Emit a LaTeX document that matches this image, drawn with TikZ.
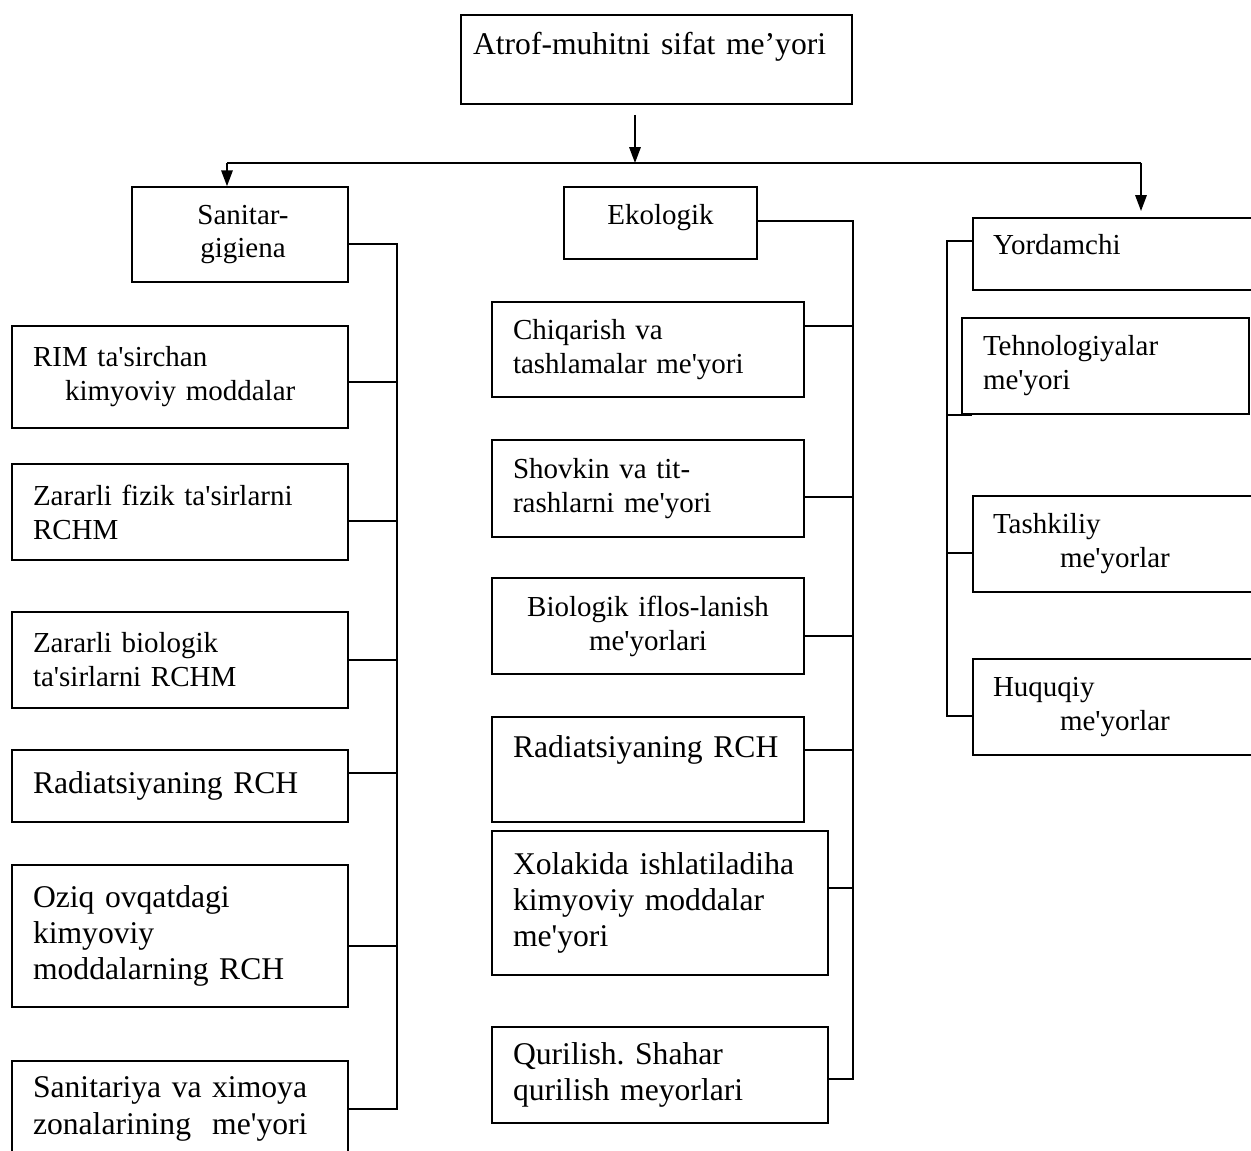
\documentclass[tikz,border=0pt]{standalone}
\usepackage{fontspec}
\setmainfont{Liberation Serif}[Ligatures=TeXOff]
\usetikzlibrary{arrows.meta}
\frenchspacing
\newcommand{\smallf}{\fontsize{16.5pt}{19.3pt}\selectfont}
\newcommand{\bigf}{\fontsize{18pt}{20.7pt}\selectfont}
\tikzset{
  box/.style = {draw, line width=0.9pt, rectangle, inner xsep=0.42cm,
    inner ysep=0pt, align=left, font=\smallf},
  bigbox/.style = {box, font=\bigf},% larger text
  lcol/.style = {minimum width=6.72cm, text width=5.88cm},% left column
  mcol/.style = {minimum width=6.24cm, text width=5.40cm},% middle column
  rcol/.style = {minimum width=5.84cm, text width=5.04cm, inner xsep=0.4cm},% right column
  link/.style = {line width=0.9pt},
  arr/.style = {link, -{Triangle[length=9pt,width=6.5pt]}}
}

\begin{document}
\begin{tikzpicture}[x=0.02cm, y=-0.02cm]
    \useasboundingbox (0,0) rectangle (1251,1151);
    % root and the three groups
    \node [bigbox, inner xsep=0.24cm, text width=7.34cm, minimum height=1.78cm,
      text height=0.44cm, text depth=0.62cm] (root) at (656.5,59.5) {Atrof-muhitni sifat me’yori};
    \node [box, align=center, minimum width=4.32cm, text width=3.48cm,
      minimum height=1.9cm] (san) at (240,234.5) {\hspace*{0.12cm}Sanitar-\\\hspace*{0.12cm}gigiena};
    \node [box, align=center, minimum width=3.86cm, text width=3.02cm,
      minimum height=1.44cm, text height=0.4cm, text depth=0.32cm] (eko) at (660.5,223) {Ekologik};
    \node [box, rcol, minimum height=1.44cm, text height=0.4cm,
      text depth=0.36cm] (yord) at (1119,254) {Yordamchi};
    % left column
    \node [box, lcol, minimum height=2.04cm] (rim) at (180,377) {RIM ta'sirchan\\\hspace*{0.64cm}kimyoviy moddalar};
    \node [box, lcol, minimum height=1.92cm] (fiz) at (180,512) {Zararli fizik ta'sirlarni\\RCHM};
    \node [box, lcol, minimum height=1.92cm] (bio) at (180,660) {Zararli biologik\\ta'sirlarni RCHM};
    \node [bigbox, lcol, minimum height=1.44cm] (radl) at (180,786) {Radiatsiyaning RCH};
    \node [bigbox, lcol, minimum height=2.84cm] (oziq) at (180,936) {Oziq ovqatdagi\\kimyoviy\\moddalarning RCH};
    \node [bigbox, lcol, minimum height=1.92cm] (zona) at (180,1109) {Sanitariya va ximoya\\zonalarining~ me'yori};
    % middle column
    \node [box, mcol, minimum height=1.9cm] (chiq) at (648,349.5) {Chiqarish va\\tashlamalar me'yori};
    \node [box, mcol, minimum height=1.94cm] (shov) at (648,488.5) {Shovkin va tit-\\rashlarni me'yori};
    \node [box, mcol, align=center, minimum height=1.92cm] (biom) at (648,626) {Biologik iflos-lanish\\me'yorlari};
    \node [bigbox, mcol, minimum height=2.1cm, text height=0.44cm,
      text depth=0.94cm] (radm) at (648,769.5) {Radiatsiyaning RCH};
    \node [bigbox, lcol, minimum height=2.88cm] (xol) at (660,903) {Xolakida ishlatiladiha\\kimyoviy moddalar\\me'yori};
    \node [bigbox, lcol, minimum height=1.92cm] (qur) at (660,1075) {Qurilish. Shahar\\qurilish meyorlari};
    % right column
    \node [box, minimum width=5.74cm, text width=4.9cm, minimum height=1.92cm] (tex) at (1105.5,366) {Tehnologiyalar\\me'yori};
    \node [box, rcol, minimum height=1.92cm] (tash) at (1119,544) {Tashkiliy\\\hspace*{1.34cm}me'yorlar};
    \node [box, rcol, minimum height=1.92cm] (huq) at (1119,707) {Huquqiy\\\hspace*{1.34cm}me'yorlar};

    % arrows from the root
    \coordinate (stem) at (635,115);
    \coordinate (hub) at (635,163);
    \coordinate (hubL) at (227,163);
    \coordinate (hubR) at (1141,163);
    \coordinate (tipR) at (1141,211);
    \draw [arr] (stem) -- (hub);
    \draw [link] (hubL) -- (hubR);
    \draw [arr] (hubL) -- (hubL |- san.north);
    \draw [arr] (hubR) -- (tipR);

    % left spine
    \draw [link] ([yshift=-0.19cm]san.east) -- ++(48,0) |- (zona.east);
    \foreach \n/\s in {rim/-0.1, fiz/-0.18, bio/0, radl/0.26, oziq/-0.2}
      \draw [link] ([yshift=\s cm]\n.east) -- ++(48,0);
    % middle spine
    \draw [link] ([yshift=0.04cm]eko.east) -- ++(95,0) |- ([yshift=-0.08cm]qur.east);
    \foreach \n/\s/\l in {chiq/0.47/48, shov/-0.17/48, biom/-0.2/48, radm/0.39/48, xol/0.3/24}
      \draw [link] ([yshift=\s cm]\n.east) -- ++(\l,0);
    % right spine
    \draw [link] ([yshift=0.26cm]yord.west) -- ++(-25,0) |- ([yshift=-0.18cm]huq.west);
    \draw [link] ([xshift=0.22cm]tex.south west) -- ++(-25,0);
    \draw [link] ([yshift=-0.18cm]tash.west) -- ++(-25,0);
\end{tikzpicture}
\end{document}
